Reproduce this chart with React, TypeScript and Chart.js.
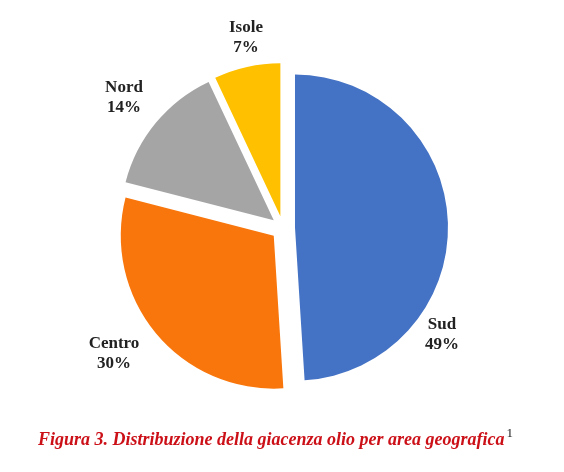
import React, { useEffect, useRef } from "react";
import { Chart, registerables } from "chart.js";

Chart.register(...registerables);

// ---- data ----
const categories = ["Sud", "Centro", "Nord", "Isole"];
const shares = [49, 30, 14, 7];
const percentLabels = ["49%", "30%", "14%", "7%"];
const caption = "Figura 3. Distribuzione della giacenza olio per area geografica";
const captionNote = "1";

// ---- styles ----
const sliceColors = ["#4472C4", "#F8760B", "#A5A5A5", "#FFC000"];
const EXPLODE = 12;
const SERIF = '"Liberation Serif", "Times New Roman", serif';
// label centre offsets from the pie centre (first line), in px
const labelOffsets: [number, number][] = [
  [159, 97],
  [-169, 116],
  [-159, -140],
  [-37, -200],
];

const explodePlugin = {
  id: "explode",
  afterDatasetsUpdate(chart: any) {
    const meta = chart.getDatasetMeta(0);
    meta.data.forEach((arc: any) => {
      const mid = (arc.startAngle + arc.endAngle) / 2;
      arc.x += Math.cos(mid) * EXPLODE;
      arc.y += Math.sin(mid) * EXPLODE;
    });
  },
};

const labelPlugin = {
  id: "labelsAndCaption",
  afterDraw(chart: any) {
    const ctx = chart.ctx;
    const area = chart.chartArea;
    const cx = (area.left + area.right) / 2;
    const cy = (area.top + area.bottom) / 2;
    ctx.save();
    ctx.fillStyle = "#222222";
    ctx.font = `bold 17px ${SERIF}`;
    ctx.textAlign = "center";
    ctx.textBaseline = "middle";
    categories.forEach((name, i) => {
      const [dx, dy] = labelOffsets[i];
      ctx.fillText(name, cx + dx, cy + dy);
      ctx.fillText(percentLabels[i], cx + dx, cy + dy + 20);
    });
    // caption
    ctx.textAlign = "left";
    ctx.textBaseline = "alphabetic";
    ctx.font = `italic bold 18px ${SERIF}`;
    ctx.fillStyle = "#CC1018";
    const x0 = 38;
    const yb = 445;
    ctx.fillText(caption, x0, yb);
    const w = ctx.measureText(caption).width;
    ctx.font = `13px ${SERIF}`;
    ctx.fillStyle = "#222222";
    ctx.fillText(captionNote, x0 + w + 2, yb - 8);
    ctx.restore();
  },
};

export default function App() {
  const canvasRef = useRef<HTMLCanvasElement | null>(null);

  useEffect(() => {
    if (!canvasRef.current) return;
    const chart = new Chart(canvasRef.current, {
      type: "pie",
      data: {
        labels: categories,
        datasets: [
          {
            data: shares,
            backgroundColor: sliceColors,
            borderWidth: 0,
          },
        ],
      },
      options: {
        responsive: false,
        animation: false,
        events: [],
        layout: { padding: { left: 130, right: 128, top: 75, bottom: 91 } },
        plugins: {
          legend: { display: false },
          tooltip: { enabled: false },
        },
      },
      plugins: [explodePlugin, labelPlugin],
    });
    return () => chart.destroy();
  }, []);

  return (
    <div style={{ position: "absolute", left: 0, top: 0, width: 564, height: 472, background: "#ffffff" }}>
      <canvas ref={canvasRef} width={564} height={472} style={{ width: 564, height: 472 }} />
    </div>
  );
}
